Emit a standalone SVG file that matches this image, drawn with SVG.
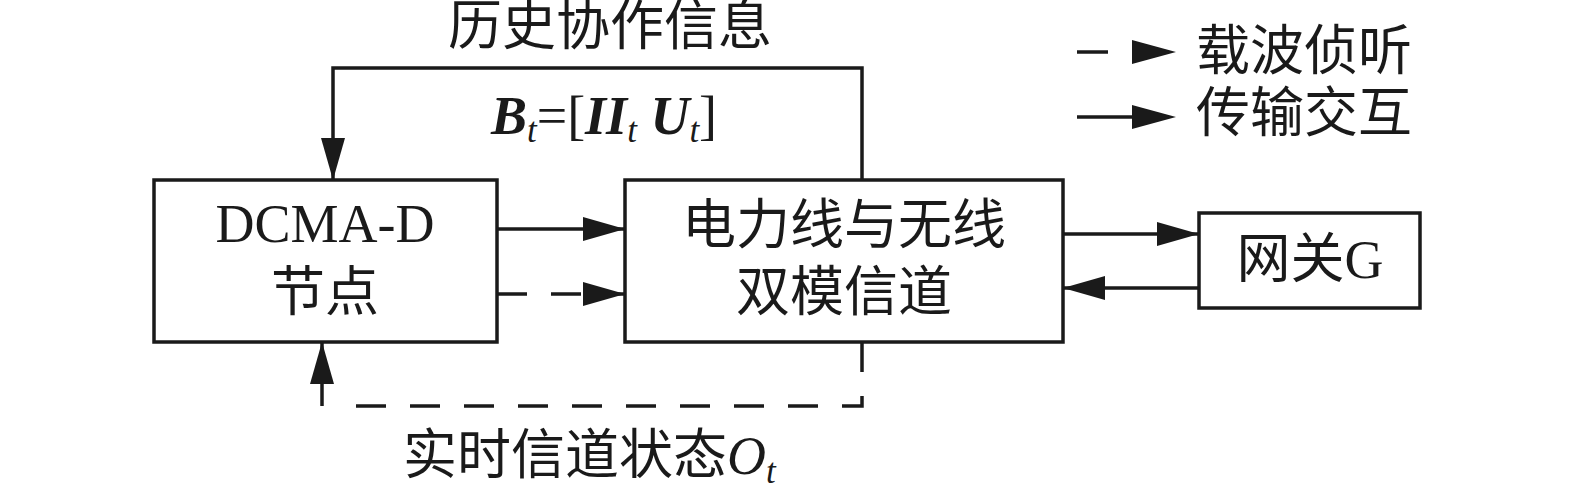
<svg xmlns="http://www.w3.org/2000/svg" width="1575" height="503" viewBox="0 0 1575 503">
<style>
.box{fill:#fff;stroke:#1a1a1a;stroke-width:3.5}
.ln{fill:none;stroke:#1a1a1a;stroke-width:3.5}
.dash{stroke-dasharray:30 24}
.t{font-family:"Liberation Serif","Noto Sans CJK SC",serif;font-size:54px;fill:#1a1a1a}
.bi{font-weight:bold;font-style:italic}
.it{font-style:italic}
</style>
<defs>
<marker id="ah" markerUnits="userSpaceOnUse" markerWidth="44" markerHeight="26" refX="42" refY="12" orient="auto" overflow="visible">
<path d="M0,0 L42,12 L0,24 Z" fill="#1a1a1a"/>
</marker>
</defs>
<rect width="1575" height="503" fill="#fff"/>
<g id="connectors">
<polyline class="ln" points="862,180 862,68 333,68 333,180" marker-end="url(#ah)"/>
<line class="ln" x1="497" y1="229" x2="625" y2="229" marker-end="url(#ah)"/>
<line class="ln dash" x1="497" y1="294" x2="625" y2="294" marker-end="url(#ah)"/>
<line class="ln" x1="1063" y1="234" x2="1199" y2="234" marker-end="url(#ah)"/>
<line class="ln" x1="1199" y1="288" x2="1063" y2="288" marker-end="url(#ah)"/>
<path class="ln dash" d="M862,342 V406 H346"/>
<line class="ln" x1="322" y1="406" x2="322" y2="342" marker-end="url(#ah)"/>
</g>
<g id="legend">
<line class="ln" x1="1077" y1="52" x2="1108" y2="52"/>
<path d="M1132,40 L1176,52 L1132,64 Z" fill="#1a1a1a"/>
<text class="t" x="1196" y="70">载波侦听</text>
<line class="ln" x1="1077" y1="117" x2="1140" y2="117"/>
<path d="M1132,105 L1176,117 L1132,129 Z" fill="#1a1a1a"/>
<text class="t" x="1196" y="132">传输交互</text>
</g>
<g id="labels">
<text class="t" x="610" y="45" text-anchor="middle">历史协作信息</text>
<text class="t" x="604" y="134" text-anchor="middle"><tspan class="bi">B</tspan><tspan class="it" font-size="35" dy="8">t</tspan><tspan dy="-8">=[</tspan><tspan class="bi">II</tspan><tspan class="it" font-size="35" dy="8">t</tspan><tspan dy="-8"> </tspan><tspan class="bi">U</tspan><tspan class="it" font-size="35" dy="8">t</tspan><tspan dy="-8">]</tspan></text>
<text class="t" x="403" y="474">实时信道状态<tspan class="it">O</tspan><tspan class="it" font-size="35" dy="9">t</tspan></text>
</g>
<g id="node-dcma">
<rect class="box" x="154" y="180" width="343" height="162"/>
<text class="t" x="325" y="242" text-anchor="middle" font-size="55">DCMA-D</text>
<text class="t" x="325" y="311" text-anchor="middle">节点</text>
</g>
<g id="node-channel">
<rect class="box" x="625" y="180" width="438" height="162"/>
<text class="t" x="844" y="244" text-anchor="middle">电力线与无线</text>
<text class="t" x="844" y="311" text-anchor="middle">双模信道</text>
</g>
<g id="node-gateway">
<rect class="box" x="1199" y="213" width="221" height="95"/>
<text class="t" x="1310" y="278" text-anchor="middle">网关G</text>
</g>
</svg>
